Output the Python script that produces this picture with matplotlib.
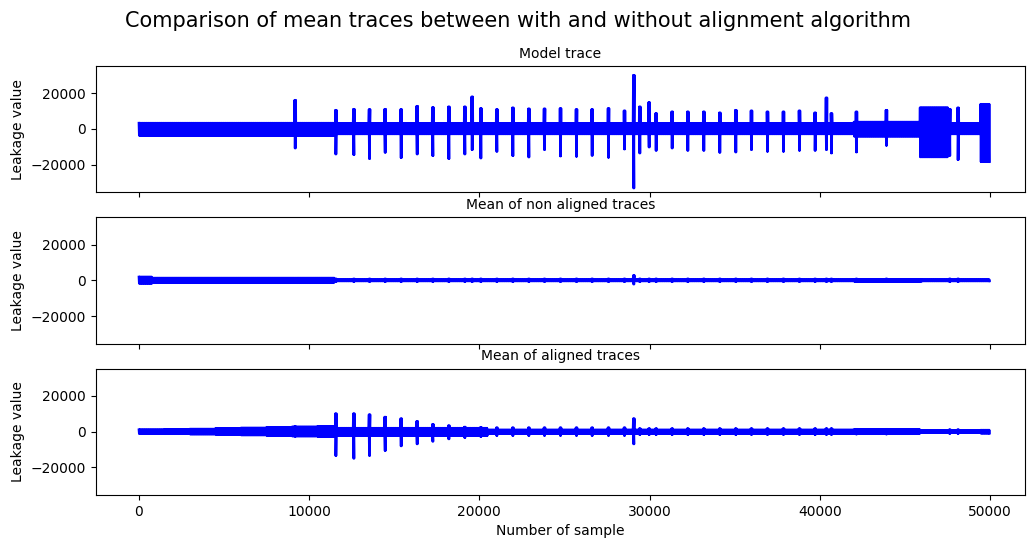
import numpy as np
import matplotlib
matplotlib.use("Agg")
import matplotlib.pyplot as plt

# ---- spike positions (sample index) shared by the three traces ----
spike_pos = [9197, 11585, 12642, 13562, 14482, 15421, 16361, 17281, 18221,
             19160, 19591, 20100, 21040, 21980, 22919, 23839, 24778, 25717,
             26637, 27597, 28536, 29084, 29436, 29984, 30395, 31335, 32255,
             33195, 34134, 35074, 35994, 36933, 37873, 38812, 39732, 40398,
             40691, 42159, 43921, 47640, 48129]

# ---- model trace ----
model_spike_hi = [16240, 10640, 11200, 11013, 11200, 11013, 12880, 12133, 12507,
                  12507, 18107, 11573, 11013, 11947, 11387, 11387, 11573, 11013,
                  11013, 11573, 10267, 30240, 12507, 14933, 8773, 9707, 9707,
                  9707, 9147, 10640, 10267, 9707, 9707, 10267, 9147, 17547,
                  8773, 9700, 10640, 11200, 11947]
model_spike_lo = [-10827, -14187, -14560, -16800, -13253, -16240, -14187, -15120, -16800,
                  -14187, -11760, -16427, -12693, -15120, -15867, -11760, -15307, -15493,
                  -14933, -16053, -11387, -33227, -13627, -10267, -12133, -10827, -12133,
                  -12133, -13253, -13067, -11760, -12693, -12693, -12133, -12133, -11760,
                  -13627, -13067, -9333, -15000, -17360]
model_seg_start = [0, 11500, 42000, 45880, 47540, 49440]
model_seg_end = [11500, 42000, 45880, 47540, 49440, 50000]
model_seg_hi = [3400, 3100, 4000, 12000, 3100, 14000]
model_seg_lo = [-3700, -2900, -4200, -15800, -2900, -18500]

# ---- mean of non aligned traces ----
nonal_spike_hi = [1300] + [900] * 20 + [2800] + [900] * 19
nonal_spike_lo = [-1300] + [-900] * 20 + [-2240] + [-900] * 19
nonal_seg_start = [0, 800, 11500, 42000, 46000]
nonal_seg_end = [800, 11500, 42000, 46000, 50000]
nonal_seg_hi = [2000, 1400, 500, 700, 500]
nonal_seg_lo = [-1800, -1500, -500, -700, -500]

# ---- mean of aligned traces ----
al_spike_hi = [3000, 10173, 10173, 9613, 8307, 7373, 5880, 4200, 3453,
               2707, 2000, 2520, 2300, 2300, 2300, 2300, 2300, 2300,
               2300, 2300, 2300, 7373, 1800, 1800, 1800, 1800, 1800,
               1800, 1800, 1800, 1800, 1800, 1800, 1800, 1800, 1800,
               1800, 1500, 1500, 1200, 1200]
al_spike_lo = [-2800, -13533, -15027, -13533, -10733, -8120, -7000, -5507, -4200,
               -3453, -2000, -2893, -2300, -2300, -2300, -2300, -2300, -2300,
               -2300, -2300, -2300, -7000, -1800, -1800, -1800, -1800, -1800,
               -1800, -1800, -1800, -1800, -1800, -1800, -1800, -1800, -1800,
               -1800, -1500, -1500, -1200, -1200]
al_seg_start = [0, 1500, 3000, 4500, 6000, 7500, 9000, 10500, 11500, 20500, 42000, 45900, 49440]
al_seg_end = [1500, 3000, 4500, 6000, 7500, 9000, 10500, 11500, 20500, 42000, 45900, 49440, 50000]
al_seg_hi = [1200, 1400, 1600, 1900, 2200, 2500, 2800, 3100, 2100, 1100, 1300, 700, 1000]
al_seg_lo = [-1200, -1300, -1500, -1700, -2000, -2300, -2600, -2900, -2300, -1100, -1300, -700, -1000]

titles = ["Model trace", "Mean of non aligned traces", "Mean of aligned traces"]


def build_trace(seg_start, seg_end, seg_hi, seg_lo, sp_hi, sp_lo, step=20):
    """Dense oscillating trace: band envelope per segment plus spike bursts."""
    xs, ys = [], []
    for s, e, hi, lo in zip(seg_start, seg_end, seg_hi, seg_lo):
        x = np.arange(s, e, step)
        y = np.where(np.arange(len(x)) % 2 == 0, hi, lo)
        xs.append(x)
        ys.append(y)
    for p, hi, lo in zip(spike_pos, sp_hi, sp_lo):
        xs.append(np.array([p - 45, p - 25, p - 5, p + 15, p + 35]))
        ys.append(np.array([hi, lo, hi, lo, hi]))
    x = np.concatenate(xs).astype(float)
    y = np.concatenate(ys).astype(float)
    order = np.argsort(x, kind="stable")
    return x[order], y[order]


traces = [
    build_trace(model_seg_start, model_seg_end, model_seg_hi, model_seg_lo,
                model_spike_hi, model_spike_lo),
    build_trace(nonal_seg_start, nonal_seg_end, nonal_seg_hi, nonal_seg_lo,
                nonal_spike_hi, nonal_spike_lo),
    build_trace(al_seg_start, al_seg_end, al_seg_hi, al_seg_lo,
                al_spike_hi, al_spike_lo),
]

fig, axes = plt.subplots(3, 1, figsize=(10.27, 5.39), dpi=100,
                         sharex=True, sharey=True)
fig.subplots_adjust(left=0.0932, right=0.998, top=0.8776, bottom=0.0816,
                    hspace=0.198)
fig.suptitle("Comparison of mean traces between with and without alignment algorithm",
             fontsize=15, x=0.504)

for ax, (x, y), t in zip(axes, traces, titles):
    ax.plot(x, y, color="blue", linewidth=1.5)
    ax.set_title(t, fontsize=10)
    ax.set_ylabel("Leakage value")

axes[0].set_xlim(-2525, 52050)
axes[0].set_ylim(-35500, 35300)
axes[0].set_yticks([-20000, 0, 20000])
axes[2].set_xlabel("Number of sample")

fig.savefig("out.png", dpi=100)
